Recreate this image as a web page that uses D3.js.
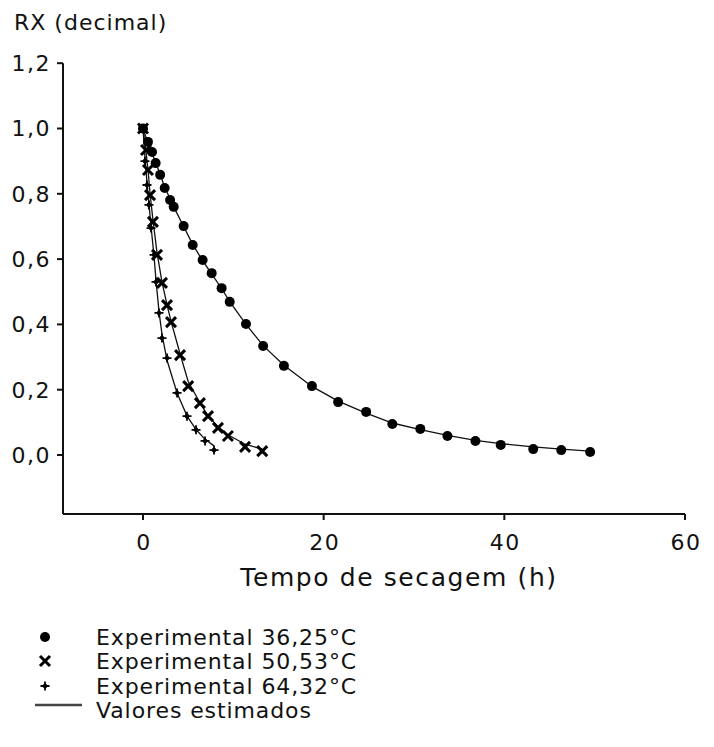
<!DOCTYPE html>
<html>
<head>
<meta charset="utf-8">
<script src="https://cdn.jsdelivr.net/npm/d3@7"></script>
<style>
  body { margin: 0; background: #fff; }
  text { font-family: "DejaVu Sans", Verdana, sans-serif; fill: #111; }
</style>
</head>
<body>
<div id="chart"></div>
<script>
// drying data
var t36 = [0, 0.55, 1.0, 1.4, 1.9, 2.4, 3.0, 3.4, 4.5, 5.5, 6.6, 7.6, 8.7, 9.6, 11.4, 13.3, 15.6, 18.7, 21.6, 24.7, 27.6, 30.7, 33.7, 36.8, 39.6, 43.2, 46.3, 49.5];
var rx36 = [1.0, 0.959, 0.928, 0.894, 0.858, 0.818, 0.781, 0.76, 0.701, 0.643, 0.597, 0.557, 0.511, 0.469, 0.401, 0.334, 0.273, 0.211, 0.162, 0.132, 0.095, 0.08, 0.058, 0.043, 0.031, 0.018, 0.015, 0.009];
var est36 = [1.0, 0.955, 0.925, 0.895, 0.86, 0.82, 0.785, 0.76, 0.70, 0.645, 0.595, 0.555, 0.51, 0.47, 0.40, 0.335, 0.275, 0.21, 0.165, 0.128, 0.098, 0.078, 0.060, 0.045, 0.035, 0.025, 0.018, 0.012];

var t50 = [0, 0.33, 0.55, 0.78, 1.1, 1.55, 2.1, 2.66, 3.1, 4.1, 5.0, 6.3, 7.2, 8.3, 9.4, 11.3, 13.2];
var rx50 = [1.0, 0.934, 0.873, 0.796, 0.714, 0.613, 0.527, 0.459, 0.407, 0.306, 0.211, 0.159, 0.119, 0.083, 0.058, 0.025, 0.012];
var est50 = [1.0, 0.93, 0.875, 0.80, 0.72, 0.62, 0.53, 0.46, 0.41, 0.31, 0.225, 0.16, 0.12, 0.087, 0.062, 0.033, 0.018];

var t64 = [0, 0.22, 0.44, 0.66, 0.89, 1.22, 1.44, 1.77, 2.1, 2.66, 3.77, 4.87, 5.87, 6.87, 7.86];
var rx64 = [1.0, 0.90, 0.827, 0.766, 0.695, 0.613, 0.53, 0.435, 0.358, 0.297, 0.19, 0.119, 0.077, 0.043, 0.015];
var est64 = [1.0, 0.91, 0.835, 0.77, 0.70, 0.61, 0.535, 0.44, 0.37, 0.29, 0.19, 0.12, 0.078, 0.048, 0.028];

var xTicks = [0, 20, 40, 60];
var yTicks = [0, 0.2, 0.4, 0.6, 0.8, 1.0, 1.2];
var legendLabels = ["Experimental 36,25°C", "Experimental 50,53°C", "Experimental 64,32°C", "Valores estimados"];

var svgWidth = 714;
var svgHeight = 747;

var svg = d3.select("#chart")
    .append("svg")
    .attr("width", svgWidth)
    .attr("height", svgHeight);

var xScale = d3.scaleLinear().domain([0, 60]).range([143, 685]);
var yScale = d3.scaleLinear().domain([0, 1.2]).range([455, 63.2]);
var axisLeftX = 63;
var axisBottomY = 514;

var fmt = d => d3.format(".1f")(d).replace(".", ",");

// axes lines
svg.append("line")
    .attr("x1", axisLeftX).attr("x2", axisLeftX)
    .attr("y1", yScale(1.2)).attr("y2", axisBottomY)
    .attr("stroke", "#111").attr("stroke-width", 2);
svg.append("line")
    .attr("x1", axisLeftX).attr("x2", xScale(60))
    .attr("y1", axisBottomY).attr("y2", axisBottomY)
    .attr("stroke", "#111").attr("stroke-width", 2);

// y ticks
var yG = svg.append("g");
yTicks.forEach(function(v) {
    yG.append("line")
        .attr("x1", axisLeftX - 6).attr("x2", axisLeftX)
        .attr("y1", yScale(v)).attr("y2", yScale(v))
        .attr("stroke", "#111").attr("stroke-width", 2);
    yG.append("text")
        .attr("x", axisLeftX - 12)
        .attr("y", yScale(v))
        .attr("dy", "0.36em")
        .attr("text-anchor", "end")
        .attr("font-size", "22px")
        .attr("letter-spacing", "1.5px")
        .text(fmt(v));
});

// x ticks
var xG = svg.append("g");
xTicks.forEach(function(v) {
    xG.append("line")
        .attr("x1", xScale(v)).attr("x2", xScale(v))
        .attr("y1", axisBottomY).attr("y2", axisBottomY + 6)
        .attr("stroke", "#111").attr("stroke-width", 2);
    xG.append("text")
        .attr("x", xScale(v) + 1)
        .attr("y", 550)
        .attr("text-anchor", "middle")
        .attr("font-size", "22px")
        .attr("letter-spacing", "1.5px")
        .text(v);
});

svg.append("text")
    .attr("x", 14).attr("y", 30)
    .attr("font-size", "22px")
    .attr("letter-spacing", "1px")
    .text("RX (decimal)");

svg.append("text")
    .attr("x", 399).attr("y", 586)
    .attr("text-anchor", "middle")
    .attr("font-size", "25px")
    .attr("letter-spacing", "1.6px")
    .text("Tempo de secagem (h)");

// estimated curves
var line = d3.line()
    .x(d => xScale(d[0]))
    .y(d => yScale(d[1]));

[[t36, est36], [t50, est50], [t64, est64]].forEach(function(s) {
    svg.append("path")
        .datum(d3.zip(s[0], s[1]))
        .attr("d", line)
        .attr("fill", "none")
        .attr("stroke", "#111")
        .attr("stroke-width", 1.3);
});

// marker shapes
function drawCircle(g, x, y) {
    g.append("circle").attr("cx", x).attr("cy", y).attr("r", 5).attr("fill", "#000");
}
function drawX(g, x, y) {
    g.append("path")
        .attr("d", `M${x - 5},${y - 5}L${x + 5},${y + 5}M${x - 5},${y + 5}L${x + 5},${y - 5}`)
        .attr("stroke", "#000").attr("stroke-width", 3);
}
function drawStar(g, x, y) {
    g.append("path")
        .attr("d", `M${x - 4.5},${y}L${x + 4.5},${y}M${x},${y - 4.5}L${x},${y + 4.5}`)
        .attr("stroke", "#000").attr("stroke-width", 1.8);
    g.append("circle").attr("cx", x).attr("cy", y).attr("r", 2.3).attr("fill", "#000");
}

var pts = svg.append("g");
d3.zip(t36, rx36).forEach(d => drawCircle(pts, xScale(d[0]), yScale(d[1])));
d3.zip(t50, rx50).forEach(d => drawX(pts, xScale(d[0]), yScale(d[1])));
d3.zip(t64, rx64).forEach(d => drawStar(pts, xScale(d[0]), yScale(d[1])));

// legend
var leg = svg.append("g");
var rowY = [637, 661, 686, 710];
drawCircle(leg, 45, rowY[0]);
drawX(leg, 45, rowY[1]);
drawStar(leg, 45, rowY[2]);
leg.append("line")
    .attr("x1", 35).attr("x2", 82)
    .attr("y1", 705).attr("y2", 705)
    .attr("stroke", "#444").attr("stroke-width", 2.5);
legendLabels.forEach(function(l, i) {
    leg.append("text")
        .attr("x", 96)
        .attr("y", rowY[i])
        .attr("dy", "0.36em")
        .attr("font-size", "22px")
        .attr("letter-spacing", "0.9px")
        .text(l);
});
</script>
</body>
</html>
